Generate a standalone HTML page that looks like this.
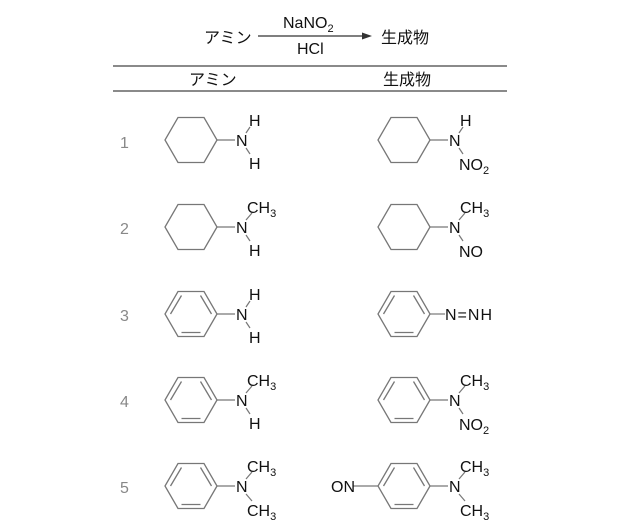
<!DOCTYPE html>
<html><head><meta charset="utf-8"><style>
html,body{margin:0;padding:0;background:#fff;}
svg{display:block;}
text{font-family:"Liberation Sans","Noto Sans CJK JP",sans-serif;fill:#111;}
</style></head><body>
<svg width="641" height="532" viewBox="0 0 641 532" xmlns="http://www.w3.org/2000/svg">
<defs>
<g id="cy"><polygon points="26,0 13,22.5 -13,22.5 -26,0 -13,-22.5 13,-22.5" fill="none" stroke="#777" stroke-width="1.3"/></g>
<g id="bz"><use href="#cy"/>
<g stroke="#777" stroke-width="1.3"><line x1="-9.5" y1="-18.5" x2="-20.5" y2="0"/><line x1="9.5" y1="-18.5" x2="20.5" y2="0"/><line x1="-9.5" y1="18.5" x2="9.5" y2="18.5"/></g></g>
</defs>
<g font-size="16">
<text x="204" y="43">アミン</text>
<line x1="258" y1="36" x2="366" y2="36" stroke="#333" stroke-width="1.2"/>
<polygon points="372,36 362,32.5 362,39.5" fill="#333"/>
<text x="283" y="28">NaNO<tspan font-size="11" dy="4">2</tspan></text>
<text x="297" y="54">HCl</text>
<text x="381" y="43">生成物</text>
<text x="189" y="85">アミン</text>
<text x="383" y="85">生成物</text>
</g>
<line x1="113" y1="66" x2="507" y2="66" stroke="#444" stroke-width="1.2"/>
<line x1="113" y1="91" x2="507" y2="91" stroke="#444" stroke-width="1.2"/>
<g font-size="16">
<text x="120" y="148" style="fill:#888">1</text>
<text x="120" y="234" style="fill:#888">2</text>
<text x="120" y="321" style="fill:#888">3</text>
<text x="120" y="407" style="fill:#888">4</text>
<text x="120" y="493" style="fill:#888">5</text>
</g>
<g font-size="16" stroke-width="1.2">
<g transform="translate(191,140)"><use href="#cy"/><line x1="26" y1="0" x2="44" y2="0" stroke="#777"/>
<text x="45" y="6">N</text><line x1="55" y1="-7" x2="59" y2="-13" stroke="#777"/><line x1="55" y1="8" x2="59" y2="14" stroke="#777"/>
<text x="58" y="-14">H</text><text x="58" y="29">H</text></g>
<g transform="translate(404,140)"><use href="#cy"/><line x1="26" y1="0" x2="44" y2="0" stroke="#777"/>
<text x="45" y="6">N</text><line x1="55" y1="-7" x2="59" y2="-13" stroke="#777"/><line x1="55" y1="8" x2="59" y2="14" stroke="#777"/>
<text x="56" y="-14">H</text><text x="55" y="30">NO<tspan font-size="11" dy="4">2</tspan></text></g>
<g transform="translate(191,227)"><use href="#cy"/><line x1="26" y1="0" x2="44" y2="0" stroke="#777"/>
<text x="45" y="6">N</text><line x1="55" y1="-7" x2="61" y2="-14" stroke="#777"/><line x1="55" y1="8" x2="59" y2="14" stroke="#777"/>
<text x="56" y="-14">CH<tspan font-size="11" dy="4">3</tspan></text><text x="58" y="29">H</text></g>
<g transform="translate(404,227)"><use href="#cy"/><line x1="26" y1="0" x2="44" y2="0" stroke="#777"/>
<text x="45" y="6">N</text><line x1="55" y1="-7" x2="61" y2="-14" stroke="#777"/><line x1="55" y1="8" x2="59" y2="14" stroke="#777"/>
<text x="56" y="-14">CH<tspan font-size="11" dy="4">3</tspan></text><text x="55" y="30">NO</text></g>
<g transform="translate(191,314)"><use href="#bz"/><line x1="26" y1="0" x2="44" y2="0" stroke="#777"/>
<text x="45" y="6">N</text><line x1="55" y1="-7" x2="59" y2="-13" stroke="#777"/><line x1="55" y1="8" x2="59" y2="14" stroke="#777"/>
<text x="58" y="-14">H</text><text x="58" y="29">H</text></g>
<g transform="translate(404,314)"><use href="#bz"/><line x1="26" y1="0" x2="41" y2="0" stroke="#777"/>
<text x="41" y="6" letter-spacing="1">N=NH</text></g>
<g transform="translate(191,400)"><use href="#bz"/><line x1="26" y1="0" x2="44" y2="0" stroke="#777"/>
<text x="45" y="6">N</text><line x1="55" y1="-7" x2="61" y2="-14" stroke="#777"/><line x1="55" y1="8" x2="59" y2="14" stroke="#777"/>
<text x="56" y="-14">CH<tspan font-size="11" dy="4">3</tspan></text><text x="58" y="29">H</text></g>
<g transform="translate(404,400)"><use href="#bz"/><line x1="26" y1="0" x2="44" y2="0" stroke="#777"/>
<text x="45" y="6">N</text><line x1="55" y1="-7" x2="61" y2="-14" stroke="#777"/><line x1="55" y1="8" x2="59" y2="14" stroke="#777"/>
<text x="56" y="-14">CH<tspan font-size="11" dy="4">3</tspan></text><text x="55" y="30">NO<tspan font-size="11" dy="4">2</tspan></text></g>
<g transform="translate(191,486)"><use href="#bz"/><line x1="26" y1="0" x2="44" y2="0" stroke="#777"/>
<text x="45" y="6">N</text><line x1="55" y1="-7" x2="61" y2="-14" stroke="#777"/><line x1="55" y1="8" x2="61" y2="15" stroke="#777"/>
<text x="56" y="-14">CH<tspan font-size="11" dy="4">3</tspan></text><text x="56" y="30">CH<tspan font-size="11" dy="4">3</tspan></text></g>
<g transform="translate(404,486)"><use href="#bz"/><line x1="26" y1="0" x2="44" y2="0" stroke="#777"/>
<text x="45" y="6">N</text><line x1="55" y1="-7" x2="61" y2="-14" stroke="#777"/><line x1="55" y1="8" x2="61" y2="15" stroke="#777"/>
<text x="56" y="-14">CH<tspan font-size="11" dy="4">3</tspan></text><text x="56" y="30">CH<tspan font-size="11" dy="4">3</tspan></text>
<line x1="-51" y1="0" x2="-26" y2="0" stroke="#777"/><text x="-73" y="6">ON</text></g>
</g>
</svg>
</body></html>
